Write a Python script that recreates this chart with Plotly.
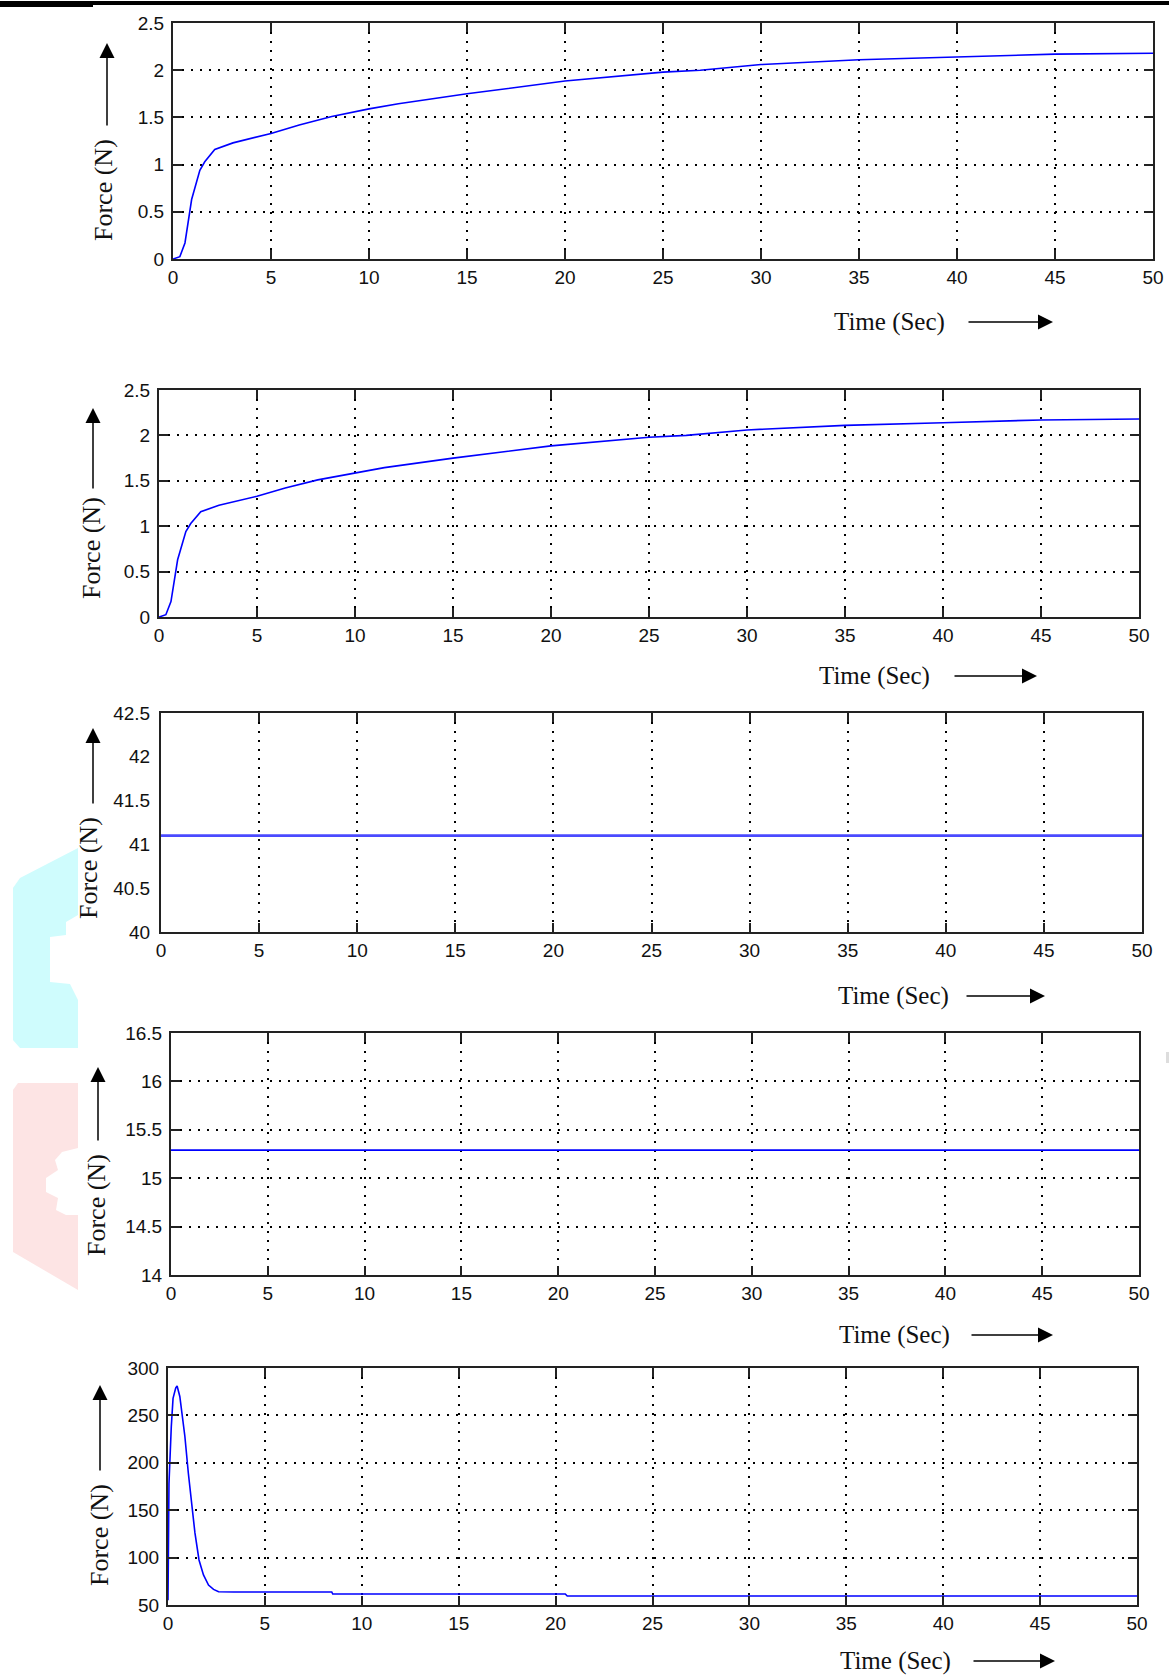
import plotly.graph_objects as go

W, H = 1169, 1676

# ---------------- data ----------------
time_rise = [0, 0.35, 0.61, 0.95, 1.37, 1.62, 2.13, 3.06, 5, 6.44, 8.1, 10, 11.5, 15, 20, 25, 26.9, 30, 35, 40, 45, 50]
force_rise = [0, 0.025, 0.17, 0.63, 0.94, 1.03, 1.16, 1.23, 1.33, 1.42, 1.51, 1.59, 1.645, 1.75, 1.885, 1.98, 2.0, 2.06, 2.11, 2.14, 2.17, 2.18]

time_const = [0, 50]
force_p3 = [41.1, 41.1]
force_p4 = [15.29, 15.29]

time_p5 = [0, 0.01, 0.05, 0.17, 0.26, 0.4, 0.47, 0.61, 0.75, 0.87, 1.05, 1.22, 1.39, 1.6, 1.83, 2.09, 2.35, 2.61, 3.4, 8.45, 8.5, 20.5, 20.6, 50]
force_p5 = [55, 104, 178, 238, 268, 279, 281, 270, 249, 228, 189, 154, 126, 97.5, 81.7, 71, 66.5, 64, 63.7, 63.7, 61.6, 61.6, 59.5, 59.5]

x_ticks = [0, 5, 10, 15, 20, 25, 30, 35, 40, 45, 50]
y_ticks_p1 = [0, 0.5, 1, 1.5, 2, 2.5]
y_ticks_p3 = [40, 40.5, 41, 41.5, 42, 42.5]
y_grid_p3 = [40.5, 41, 41.5]
y_ticks_p4 = [14, 14.5, 15, 15.5, 16, 16.5]
y_ticks_p5 = [50, 100, 150, 200, 250, 300]

x_title = "Time (Sec)"
y_title = "Force (N)"

# ---------------- layout geometry (page pixels) ----------------
panels = [
    dict(box=(173, 1153, 23, 259), yt=y_ticks_p1, xt=(889, 322), xa=(967, 1053), yx=(104, 190), ya=(107, 43, 127)),
    dict(box=(159, 1139, 390, 617), yt=y_ticks_p1, xt=(874, 676), xa=(953, 1037), yx=(91, 548), ya=(93, 408, 490)),
    dict(box=(161, 1142, 713, 932), yt=y_ticks_p3, xt=(893, 996), xa=(965, 1045), yx=(88, 868), ya=(93, 728, 805)),
    dict(box=(171, 1139, 1033, 1275), yt=y_ticks_p4, xt=(894, 1335), xa=(970, 1053), yx=(96, 1205), ya=(98, 1067, 1142)),
    dict(box=(168, 1137, 1368, 1605), yt=y_ticks_p5, xt=(895, 1661), xa=(972, 1055), yx=(99, 1535), ya=(100, 1385, 1472)),
]
series = [
    (time_rise, force_rise, "#0000ff", 1.6),
    (time_rise, force_rise, "#0000ff", 1.6),
    (time_const, force_p3, "#4a4aff", 2.8),
    (time_const, force_p4, "#0000ff", 1.6),
    (time_p5, force_p5, "#0000ff", 1.6),
]


def px(x):
    return x / W


def py(y):
    return 1 - y / H


fig = go.Figure()
annotations = []
shapes = []

tick_font = dict(family="Liberation Sans, Arial, sans-serif", size=19, color="#111")
title_font = dict(family="Liberation Serif, Times New Roman, serif", size=25, color="#111")
ytitle_font = dict(family="Liberation Serif, Times New Roman, serif", size=26, color="#111")

frame = dict(showline=True, linecolor="#222", linewidth=2, zeroline=False, fixedrange=True, automargin=False)
tickstyle = dict(ticks="inside", ticklen=9, tickwidth=2, tickcolor="#222")
gridstyle = dict(showgrid=True, gridcolor="#000", gridwidth=1.6, griddash="2px,7px")

for i, (p, s) in enumerate(zip(panels, series)):
    n = i + 1
    xa = "x" if n == 1 else f"x{n}"
    ya = "y" if n == 1 else f"y{n}"
    fig.add_trace(go.Scatter(x=s[0], y=s[1], mode="lines",
                             line=dict(color=s[2], width=s[3]),
                             xaxis=xa, yaxis=ya, showlegend=False, hoverinfo="skip"))
    x0, x1, y0, y1 = p["box"]
    fig.layout["xaxis" if n == 1 else f"xaxis{n}"] = dict(
        domain=[px(x0), px(x1)], range=[0, 50], tickvals=x_ticks,
        ticktext=[str(v) for v in x_ticks], anchor=ya, mirror="ticks",
        tickfont=tick_font, **frame, **tickstyle, **gridstyle)
    yt = p["yt"]
    if n == 3:
        # labels on the main axis; ticks and grid only at the inner values
        fig.layout["yaxis3"] = dict(
            domain=[py(y1), py(y0)], range=[yt[0], yt[-1]], tickvals=yt,
            ticktext=[f"{v:g}" for v in yt], anchor=xa, ticks="", showgrid=False,
            mirror=True, ticklabelstandoff=5, tickfont=tick_font, **frame)
        fig.layout["yaxis6"] = dict(
            overlaying="y3", range=[yt[0], yt[-1]], tickvals=y_grid_p3,
            showticklabels=False, anchor=xa, mirror="ticks",
            **frame, **tickstyle, **gridstyle)
    else:
        fig.layout["yaxis" if n == 1 else f"yaxis{n}"] = dict(
            domain=[py(y1), py(y0)], range=[yt[0], yt[-1]], tickvals=yt,
            ticktext=[f"{v:g}" for v in yt], anchor=xa, ticklabelstandoff=3,
            mirror="ticks", tickfont=tick_font, **frame, **tickstyle, **gridstyle)

    # x title and arrow
    cx, cy = p["xt"]
    annotations.append(dict(x=px(cx), y=py(cy), xref="paper", yref="paper", text=x_title,
                            showarrow=False, font=title_font, xanchor="center", yanchor="middle"))
    ax0, ax1 = p["xa"]
    annotations.append(dict(x=px(ax1), y=py(cy), xref="paper", yref="paper", text="",
                            showarrow=True, arrowhead=2, arrowsize=2.0, arrowwidth=1.5,
                            arrowcolor="#000", ax=-(ax1 - ax0), ay=0))
    # y title and arrow
    tx, ty = p["yx"]
    annotations.append(dict(x=px(tx), y=py(ty), xref="paper", yref="paper",
                            text=y_title, textangle=-90, showarrow=False, font=ytitle_font,
                            xanchor="center", yanchor="middle"))
    arx, art, arb = p["ya"]
    annotations.append(dict(x=px(arx), y=py(art), xref="paper", yref="paper", text="",
                            showarrow=True, arrowhead=2, arrowsize=2.0, arrowwidth=1.5,
                            arrowcolor="#000", ax=0, ay=(arb - art)))


def path_px(points):
    return "M " + " L ".join(f"{px(x):.5f},{py(y):.5f}" for x, y in points) + " Z"


# page top rule
shapes.append(dict(type="rect", xref="paper", yref="paper", x0=0, x1=px(93), y0=py(7), y1=py(1),
                   fillcolor="#000", line=dict(width=0), layer="below"))
shapes.append(dict(type="rect", xref="paper", yref="paper", x0=px(93), x1=1, y0=py(5), y1=py(1),
                   fillcolor="#000", line=dict(width=0), layer="below"))
# faint watermark fragments at the left edge
cyan_pts = [(13, 888), (20, 878), (78, 848), (78, 915), (66, 922), (66, 935), (50, 937), (50, 982),
            (70, 984), (78, 1000), (78, 1048), (20, 1048), (13, 1040)]
pink_pts = [(18, 1083), (78, 1083), (78, 1148), (62, 1152), (55, 1160), (58, 1170), (46, 1178),
            (46, 1192), (58, 1198), (56, 1210), (66, 1215), (78, 1215), (78, 1290), (13, 1252), (13, 1090)]
shapes.append(dict(type="path", xref="paper", yref="paper", path=path_px(cyan_pts),
                   fillcolor="#cffcfd", line=dict(width=0), layer="below"))
shapes.append(dict(type="path", xref="paper", yref="paper", path=path_px(pink_pts),
                   fillcolor="#fde4e4", line=dict(width=0), layer="below"))
shapes.append(dict(type="rect", xref="paper", yref="paper", x0=px(1166), x1=1, y0=py(1063), y1=py(1052),
                   fillcolor="#dddddd", line=dict(width=0), layer="below"))

fig.update_layout(width=W, height=H,
                  margin=dict(l=0, r=0, t=0, b=0, pad=0, autoexpand=False),
                  paper_bgcolor="white", plot_bgcolor="rgba(0,0,0,0)",
                  annotations=annotations, shapes=shapes, showlegend=False)

fig.write_html("out.html", config={"displayModeBar": False},
               post_script="document.body.style.margin='0px';document.body.style.overflow='hidden';")
